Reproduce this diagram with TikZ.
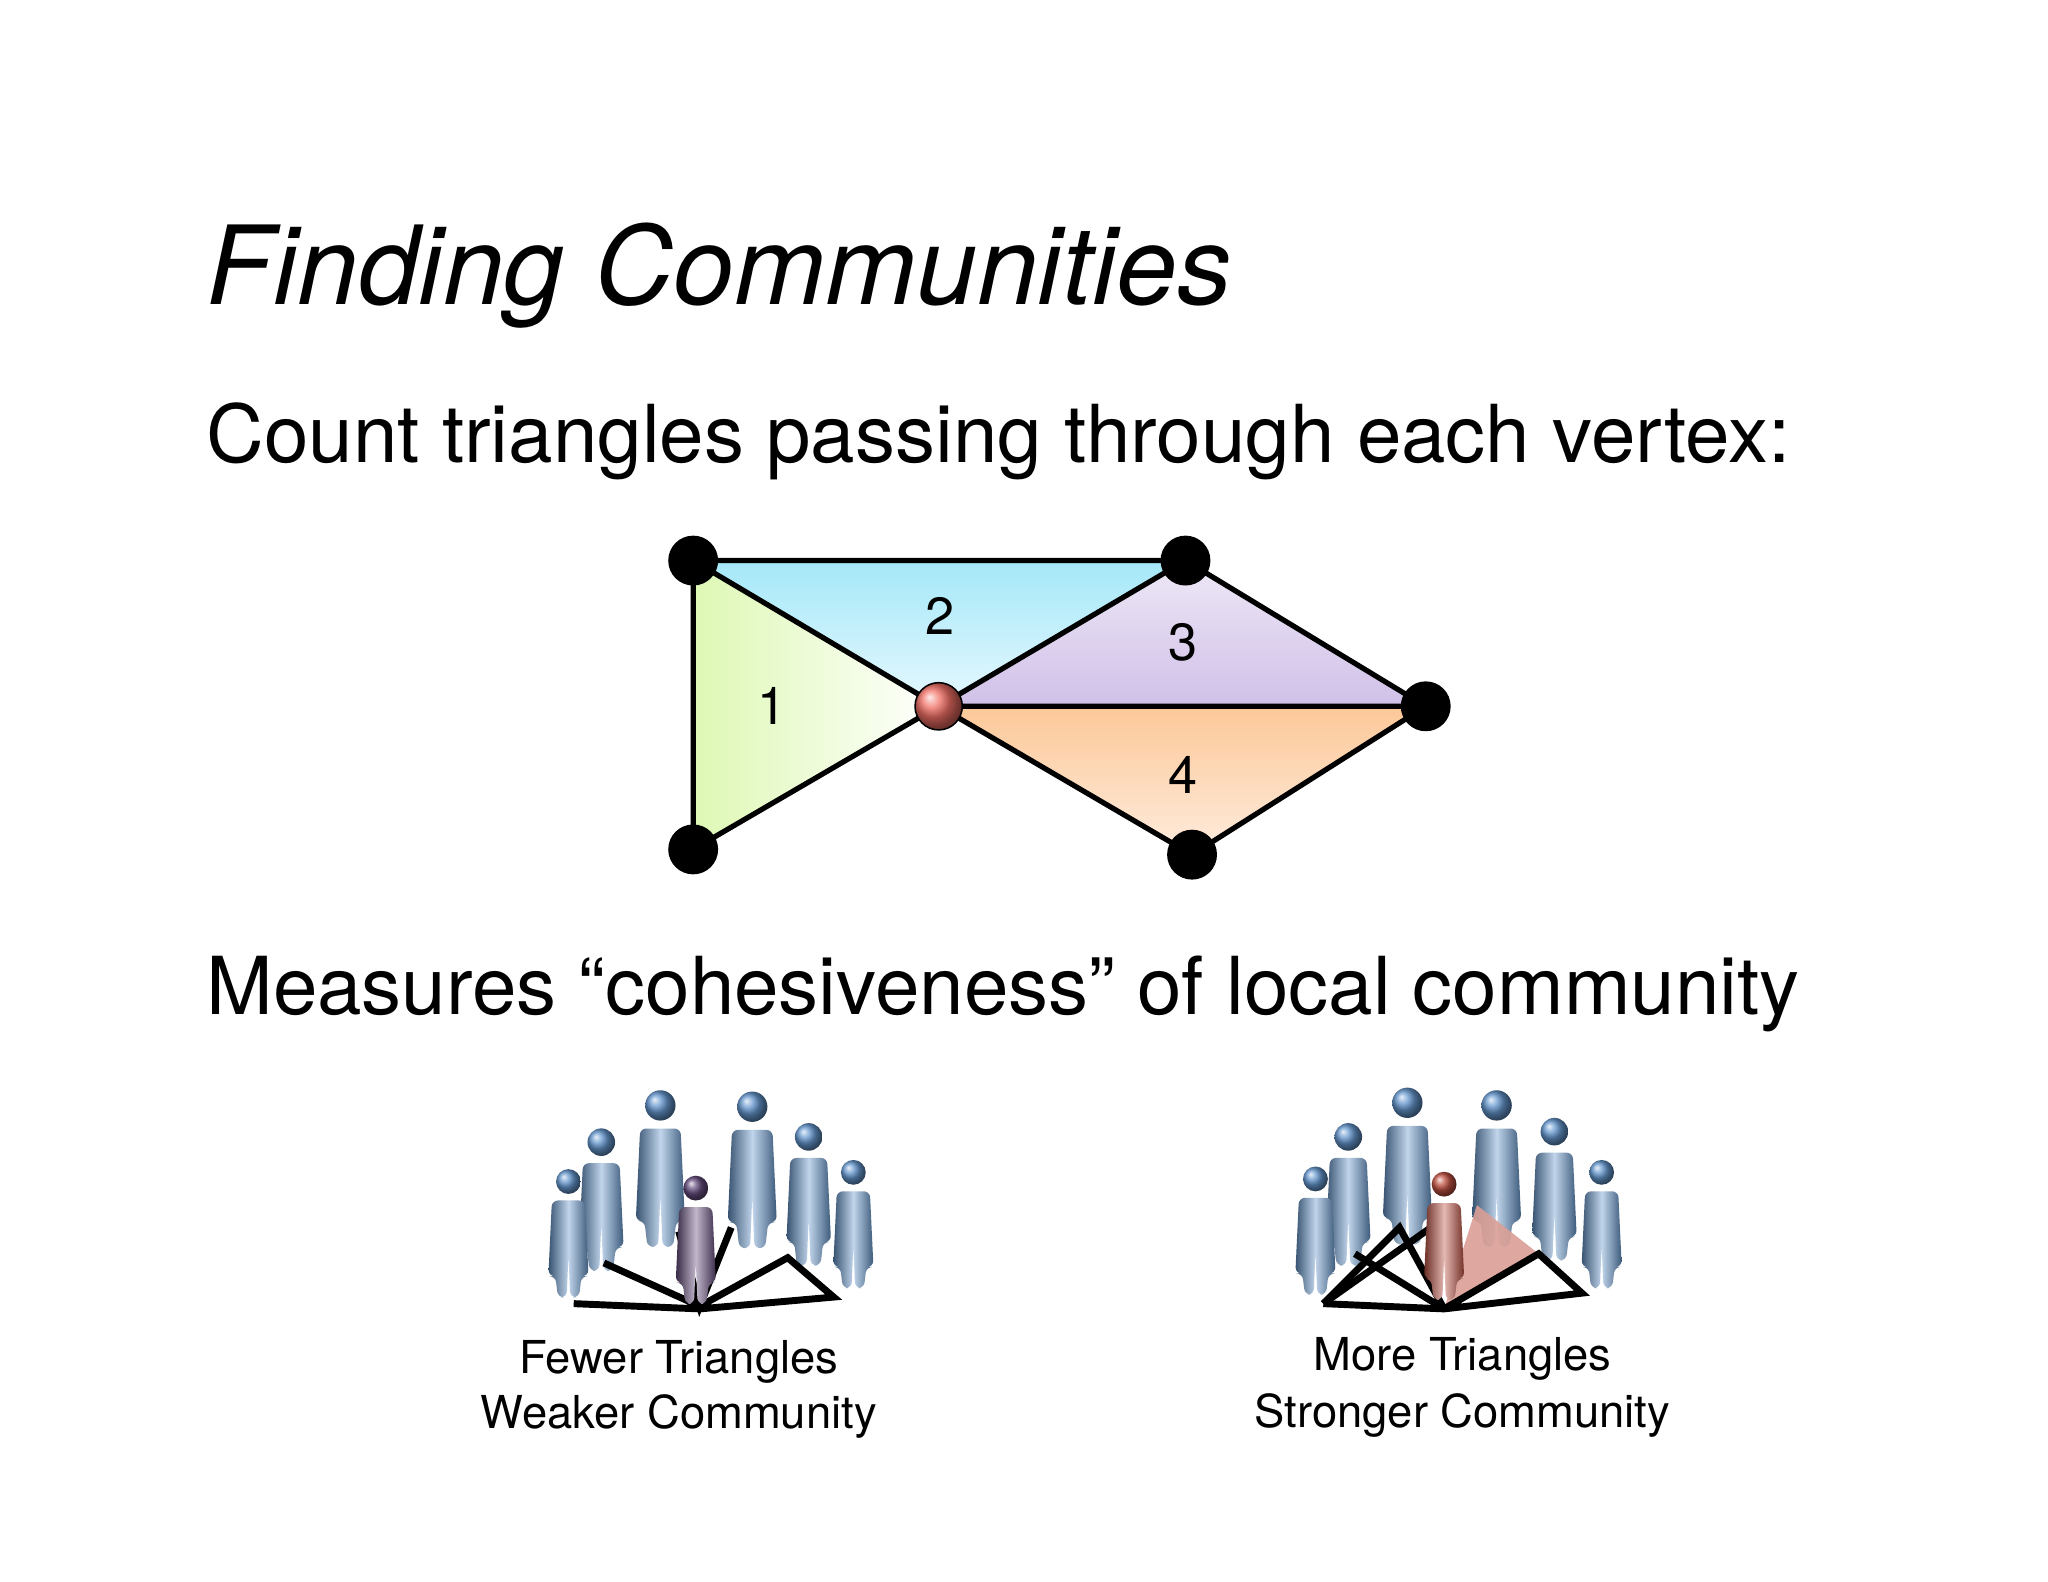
\documentclass[tikz,border=0pt]{standalone}
\usepackage{fontspec}
\setmainfont{TeX Gyre Heros}
\begin{document}
\begin{tikzpicture}[x=0.03cm,y=-0.03cm,
  vtx/.style={circle,fill=black,inner sep=0pt,minimum size=38*0.03cm},
  edge/.style={line width=3.4pt},
  lbl/.style={font=\fontsize{34pt}{34pt}\selectfont},
  lnk/.style={line width=4.5pt,line join=miter},
  captxt/.style={font=\fontsize{29.5pt}{35pt}\selectfont,anchor=base,inner sep=0pt}]
\fill[white] (0,0) rectangle (1560,1205);
\useasboundingbox (0,0) rectangle (1560,1205);
\node[anchor=base west,inner sep=0pt,font=\fontsize{71pt}{71pt}\itshape] (title) at (157,232) {Finding Communities};
\node[anchor=base west,inner sep=0pt,font=\fontsize{52pt}{52pt}\selectfont] (l1) at (157,352) {Count triangles passing through each vertex:};
\node[anchor=base west,inner sep=0pt,font=\fontsize{52pt}{52pt}\selectfont] (l2) at (157,773) {Measures “cohesiveness” of local community};
% graph
\coordinate (A) at (528,427); \coordinate (B) at (903,427); \coordinate (C) at (715,538);
\coordinate (D) at (1086,538); \coordinate (E) at (528,647); \coordinate (F) at (908,651);
\shade[left color={rgb,255:red,222;green,248;blue,180},right color=white] (A)--(C)--(E)--cycle;
\shade[top color={rgb,255:red,165;green,232;blue,248},bottom color={rgb,255:red,230;green,248;blue,255}] (A)--(B)--(C)--cycle;
\shade[top color={rgb,255:red,238;green,232;blue,246},bottom color={rgb,255:red,208;green,192;blue,232}] (B)--(D)--(C)--cycle;
\shade[top color={rgb,255:red,252;green,200;blue,152},bottom color={rgb,255:red,254;green,236;blue,222}] (C)--(D)--(F)--cycle;
\draw[edge] (A)--(B) (A)--(E) (A)--(C) (E)--(C) (B)--(C) (B)--(D) (C)--(D) (C)--(F) (F)--(D);
\node[vtx] (a) at (A) {}; \node[vtx] (b) at (B) {}; \node[vtx] (d) at (D) {};
\node[vtx] (e) at (E) {}; \node[vtx] (f) at (F) {};
\node[circle,draw=black,line width=1pt,ball color={rgb,255:red,240;green,110;blue,100},inner sep=0pt,minimum size=36*0.03cm] (c) at (C) {};
\node[lbl] (n1) at (588,538) {1};
\node[lbl] (n2) at (716,469) {2};
\node[lbl] (n3) at (901,489) {3};
\node[lbl] (n4) at (901,590) {4};
% people
\newcommand\persn[4]{%
 \begin{scope}[shift={(#1,#2)},scale=#4]
 \shade[left color=#3!55!black,right color=#3!60!black,middle color=#3!40!white,rounded corners=4pt]
  (-14,16)--(14,16)--(17,80)--(11,80)--(9,98)--(1.5,98)--(0,62)--(-1.5,98)--(-9,98)--(-11,80)--(-17,80)--cycle;
 \shade[ball color=#3] (0,0) circle (10.5);
 \end{scope}}
\colorlet{pblue}{rgb,255:red,100;green,150;blue,205}
\colorlet{ppurp}{rgb,255:red,100;green,75;blue,125}
\colorlet{pred}{rgb,255:red,190;green,80;blue,65}
% left group
\persn{503}{842}{pblue}{1.1}
\persn{573}{843}{pblue}{1.1}
\persn{458}{870}{pblue}{1.0}
\persn{616}{866}{pblue}{1.0}
\persn{433}{900}{pblue}{0.9}
\persn{650}{893}{pblue}{0.9}
\draw[lnk] (460,962)--(533,995)--(600,958)--(635,988)--(533,997)--(437,993);
\draw[lnk] (517,938)--(533,995)--(557,935);
\persn{530}{905}{ppurp}{0.9}
% right group
\persn{1072}{840}{pblue}{1.1}
\persn{1140}{842}{pblue}{1.1}
\persn{1027}{866}{pblue}{1.0}
\persn{1184}{862}{pblue}{1.0}
\persn{1002}{898}{pblue}{0.9}
\persn{1220}{893}{pblue}{0.9}
\fill[pred!55!white,opacity=0.9] (1100,997)--(1125,918)--(1172,955)--cycle;
\draw[lnk] (1008,993)--(1100,997)--(1205,985)--(1172,955)--(1100,997);
\draw[lnk] (1008,993)--(1066,935)--(1100,997);
\draw[lnk] (1008,993)--(1090,935) (1032,955)--(1100,997);
\persn{1100}{902}{pred}{0.9}
\node[captxt] (t1a) at (517,1046) {Fewer Triangles};
\node[captxt] (t1b) at (517,1088) {Weaker Community};
\node[captxt] (t2a) at (1114,1044) {More Triangles};
\node[captxt] (t2b) at (1114,1087) {Stronger Community};
\end{tikzpicture}
\end{document}
